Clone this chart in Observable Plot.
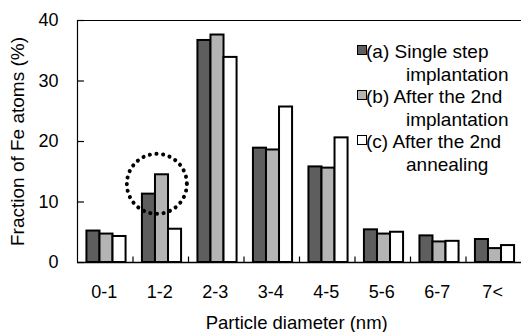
<!DOCTYPE html>
<html><head><meta charset="utf-8">
<script src="https://cdn.jsdelivr.net/npm/d3@7"></script>
<script src="https://cdn.jsdelivr.net/npm/@observablehq/plot@0.6"></script>
<style>
body{margin:0;background:#fff;}
#wrap{position:relative;width:521px;height:332px;font-family:"Liberation Sans",Arial,sans-serif;color:#000;}
#legend{position:absolute;left:357px;top:41px;font-size:19px;line-height:22.5px;white-space:nowrap;}
#legend .item{position:relative;padding-left:9px;}
#legend .sw{position:absolute;left:0;top:3px;width:8px;height:8px;border:1.5px solid #000;box-sizing:content-box;}
#legend .l2{padding-left:40px;}
</style></head><body><div id="wrap"></div>
<script>
const categories = ["0-1","1-2","2-3","3-4","4-5","5-6","6-7","7<"];
const seriesLabels = ["(a) Single step", "(b) After the 2nd", "(c) After the 2nd"];
const seriesLabels2 = ["implantation", "implantation", "annealing"];
const valuesA = [5.2, 11.3, 36.7, 18.9, 15.8, 5.4, 4.4, 3.8];
const valuesB = [4.7, 14.5, 37.6, 18.6, 15.6, 4.7, 3.4, 2.3];
const valuesC = [4.3, 5.5, 33.9, 25.7, 20.6, 5.0, 3.5, 2.8];
const yTicks = [0, 10, 20, 30, 40];
const highlightCategory = "1-2";
const highlightValue = 13;

const fills = ["#5e5e5e", "#b4b4b4", "#ffffff"];
const offsets = [0.17, 0.405, 0.64];
const barW = 0.235;

const series = [valuesA, valuesB, valuesC];
const data = [];
series.forEach((vals, s) => vals.forEach((v, i) => data.push({i, s, v, cat: categories[i]})));
const catIndex = c => categories.indexOf(c);
const xLabels = categories.map((c, i) => ({c, x: i + 0.48}));
const xTicks = d3.range(1, categories.length);

const chart = Plot.plot({
  width: 521, height: 332,
  marginLeft: 77, marginRight: 0, marginTop: 20, marginBottom: 70,
  style: {fontFamily: '"Liberation Sans", Arial, sans-serif', fontSize: "18px", color: "#000", background: "#fff"},
  x: {type: "linear", domain: [0, categories.length], axis: null},
  y: {type: "linear", domain: [0, 40], axis: null},
  marks: [
    Plot.rectY(data, {
      x1: d => d.i + offsets[d.s], x2: d => d.i + offsets[d.s] + barW,
      y1: 0, y2: "v",
      fill: d => fills[d.s], stroke: "#000", strokeWidth: 2
    }),
    Plot.ruleX([0], {y1: 0, y2: 40, stroke: "#000", strokeWidth: 1.2}),
    Plot.ruleY([40], {x1: 0, x2: categories.length, stroke: "#000", strokeWidth: 1}),
    Plot.ruleY([0], {x1: 0, x2: categories.length, stroke: "#000", strokeWidth: 1.5}),
    Plot.ruleY(yTicks, {x1: 0, x2: 0.125, stroke: "#000", strokeWidth: 1.2}),
    Plot.text(yTicks, {x: 0, y: d => d, text: d => String(d), textAnchor: "end", dx: -19, fontSize: 18}),
    Plot.ruleX(xTicks, {y1: 0, y2: 0.9, stroke: "#000", strokeWidth: 1.2}),
    Plot.text(xLabels, {x: "x", y: 0, text: "c", dy: 30, fontSize: 18}),
    Plot.text(["Particle diameter (nm)"], {x: 3.95, y: 0, text: d => d, dy: 61, fontSize: 18.5}),
    Plot.text(["Fraction of Fe atoms (%)"], {x: 0, y: 20, text: d => d, rotate: -90, dx: -60, fontSize: 19}),
    Plot.dot([{c: highlightCategory, v: highlightValue}], {
      x: d => catIndex(d.c) + 0.43, y: "v", r: 30,
      stroke: "#000", strokeWidth: 4, strokeDasharray: "0.1,6.6", strokeLinecap: "round", fill: "none"
    })
  ]
});
const wrap = document.getElementById("wrap");
wrap.appendChild(chart);

const legend = document.createElement("div");
legend.id = "legend";
seriesLabels.forEach((t, k) => {
  const it = document.createElement("div");
  it.className = "item";
  const sw = document.createElement("span");
  sw.className = "sw";
  sw.style.background = fills[k];
  sw.style.top = "4px";
  it.appendChild(sw);
  const a = document.createElement("div");
  a.textContent = t;
  it.appendChild(a);
  const b = document.createElement("div");
  b.className = "l2";
  b.textContent = seriesLabels2[k];
  it.appendChild(b);
  legend.appendChild(it);
});
wrap.appendChild(legend);
</script>
</body></html>
